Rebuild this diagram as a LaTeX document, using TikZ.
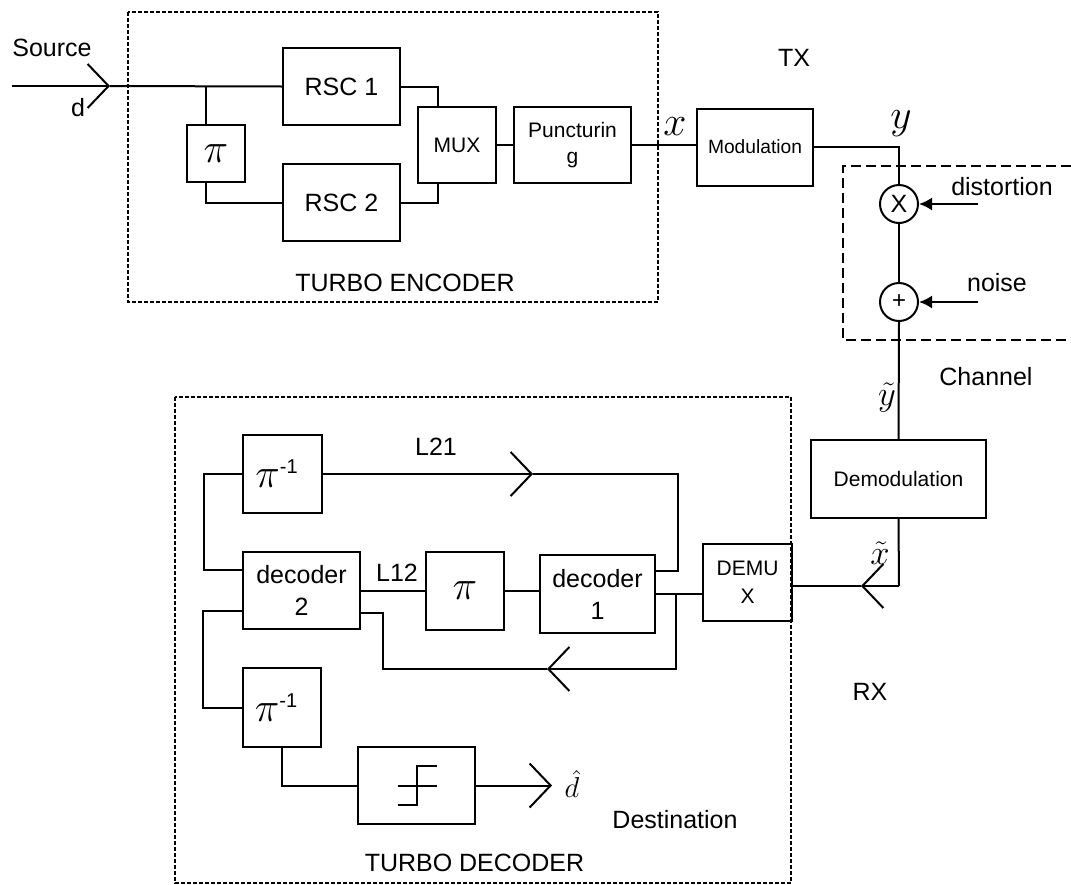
\documentclass[tikz,border=0pt]{standalone}
\usepackage{amsmath}
\usepackage{fontspec}
\setmainfont{Liberation Sans}
\usetikzlibrary{positioning,calc,arrows.meta}

\newcommand{\piinv}{$\pi$\raisebox{7pt}{\fontsize{10}{12}\selectfont -1}\hspace*{6pt}}

\begin{document}
\begin{tikzpicture}[x=0.5pt,y=-0.5pt,
    blk/.style={rectangle,draw,line width=1pt,inner sep=0pt,align=center,font=\fontsize{12.5}{16}\selectfont},
    smallblk/.style={blk,font=\fontsize{10.5}{13}\selectfont},
    lbl/.style={inner sep=0pt,font=\fontsize{12.5}{15}\selectfont},
    sym/.style={inner sep=0pt,font=\fontsize{20}{22}\selectfont},
    wire/.style={line width=1pt},
    chev/.style={wire,-{Straight Barb[length=10.5pt,width=22pt]}},
    feed/.style={wire,-{Latex[length=6.5pt,width=6.5pt]}},
    sumnode/.style={circle,draw,line width=1pt,minimum size=19pt,inner sep=0pt},
    grp/.style={line width=0.7pt,dash pattern=on 2pt off 1pt}]
\useasboundingbox (0,0) rectangle (1071,884);

% transmitter side
\node[lbl] (srcLbl) at (52,48) {Source};
\node[lbl] (dLbl) at (78,108) {d};
\node[blk,minimum width=58.5pt,minimum height=38.5pt] (rscA) at (341.5,86.5) {RSC 1};
\node[blk,minimum width=58.5pt,minimum height=38.5pt] (rscB) at (341.5,202.5) {RSC 2};
\node[blk,minimum width=29pt,minimum height=28.5pt,font=\fontsize{20}{22}\selectfont] (piEnc) at (216,153.5) {$\pi$};
\node[smallblk,minimum width=39pt,minimum height=38pt] (mux) at (457,145) {MUX};
\node[smallblk,minimum width=58.5pt,minimum height=38pt] (punct) at (572.5,145) {Puncturin\\g};
\node[blk,minimum width=58pt,minimum height=38.5pt,font=\fontsize{9.6}{11}\selectfont] (modul) at (755,147) {Modulation};
\node[lbl] at (405,283) {TURBO ENCODER};
\node[sym] (xLbl) at (675,127) {$x$};
\node[lbl] (txLbl) at (794,58) {TX};
\node[sym] (yLbl) at (901,124) {$y$};

% channel
\node[sumnode,font=\fontsize{12.5}{15}\selectfont] (mixer) at (899,204) {X};
\node[sumnode,font=\fontsize{12}{14}\selectfont] (adder) at (899,302) {+};
\node[lbl] (distLbl) at (1002,187) {distortion};
\node[lbl] (noiseLbl) at (997,283) {noise};
\node[lbl] (chanLbl) at (986,377) {Channel};
\coordinate (distIn) at (978,204);
\coordinate (noiseIn) at (978,302);

% receiver side
\node[blk,minimum width=87.5pt,minimum height=39pt,font=\fontsize{10.5}{13}\selectfont] (demod) at (898.5,479) {Demodulation};
\node[smallblk,minimum width=44.5pt,minimum height=38.5pt,font=\fontsize{10.5}{14}\selectfont] (demux) at (747.5,582.5) {DEMU\\X};
\node[sym,font=\fontsize{18}{20}\selectfont] (ytLbl) at (887,398) {$\tilde{y}$};
\node[sym,font=\fontsize{18}{20}\selectfont] (xtLbl) at (880,553) {$\tilde{x}$};
\node[lbl] (rxLbl) at (870,692) {RX};

% turbo decoder
\node[blk,minimum width=39.5pt,minimum height=39pt,font=\fontsize{20}{22}\selectfont] (piInvA) at (282.5,474) {\piinv};
\node[blk,minimum width=58.5pt,minimum height=38.5pt] (decB) at (301.5,590.5) {decoder\\2};
\node[blk,minimum width=39pt,minimum height=39pt,font=\fontsize{20}{22}\selectfont] (piDec) at (465,591) {$\pi$};
\node[blk,minimum width=57.5pt,minimum height=39pt] (decA) at (597.5,594) {decoder\\1};
\node[blk,minimum width=39pt,minimum height=39.5pt,font=\fontsize{20}{22}\selectfont] (piInvB) at (282,707.5) {\piinv};
\node[blk,minimum width=58.5pt,minimum height=38.5pt] (hard) at (416.5,785.5) {};
\node[lbl] (l21Lbl) at (436,447) {L21};
\node[lbl] (l12Lbl) at (397,573) {L12};
\node[sym,font=\fontsize{14}{15}\selectfont] (dhLbl) at (572,784) {$\hat{d}$};
\node[lbl] (destLbl) at (675,820) {Destination};
\node[lbl] at (474.5,863) {TURBO DECODER};

% group frames
\draw[grp] (128,12) rectangle (658,302);
\draw[grp] (175,397) rectangle (791,883);
\draw[line width=0.8pt,dash pattern=on 5pt off 2.5pt] (1071,166) -| (843,340) -- (1071,340);

% encoder wiring
\coordinate (src) at (12,86);
\coordinate (srcTip) at (110,86);
\coordinate (split) at (206,86);
\draw[chev] (src) -- (srcTip);
\draw[wire] (srcTip) -- (rscA.west);
\draw[wire] (split) -- (split |- piEnc.north);
\draw[wire] (piEnc.south -| split) |- (rscB.west);
\draw[wire] (rscA.east) -| ($(mux.north)+(-19,0)$);
\draw[wire] (rscB.east) -| ($(mux.south)+(-19,0)$);
\draw[wire] (mux) -- (punct);
\draw[wire] (punct.east) -- (punct.east -| modul.west);
\draw[wire] (modul.east) -| (mixer.north);

% channel wiring
\draw[wire] (mixer) -- (adder);
\draw[wire] (adder.south) -- (demod.north);
\draw[feed] (distIn) -- (mixer.east);
\draw[feed] (noiseIn) -- (adder.east);
\coordinate (rxCorner) at (899,586);
\coordinate (rxTip) at (861,586);
\draw[wire] (demod.south) -- (rxCorner);
\draw[chev] (rxCorner) -- (rxTip);
\draw[wire] (rxTip) -- (rxTip -| demux.east);

% decoder wiring
\coordinate (jA) at (676,594);
\coordinate (fbTip) at (547,669);
\coordinate (l21Tip) at (533,474);
\coordinate (dTip) at (552,785.5);
\draw[wire] (decA.east) -- (decA.east -| demux.west);
\draw[chev] (jA) |- (fbTip);
\draw[wire] (fbTip) -| ($(decB.south east)+(22,-17)$) -- ($(decB.south east)+(0,-17)$);
\draw[chev] (piInvA.east) -- (l21Tip);
\draw[wire] (l21Tip) -| ($(decA.north east)+(22,17)$) -- ($(decA.north east)+(0,17)$);
\draw[wire] (piInvA.west) -- ++(-38,0) |- ($(decB.north west)+(0,19)$);
\draw[wire] (decB.east) -- (decB.east -| piDec.west);
\draw[wire] (piDec.east) -- (piDec.east -| decA.west);
\draw[wire] ($(decB.south west)+(0,-19)$) -- ++(-39,0) |- (piInvB.west);
\draw[wire] (piInvB.south) |- (hard.west);
\draw[chev] (hard.east) -- (dTip);
% hard decision symbol
\draw[wire] ($(hard.center)+(-19,19.5)$) -- ++(19.5,0) -- ++(0,-39) -- ++(19.5,0);
\draw[wire] ($(hard.center)+(-19,0)$) -- ++(39,0);
\end{tikzpicture}
\end{document}
